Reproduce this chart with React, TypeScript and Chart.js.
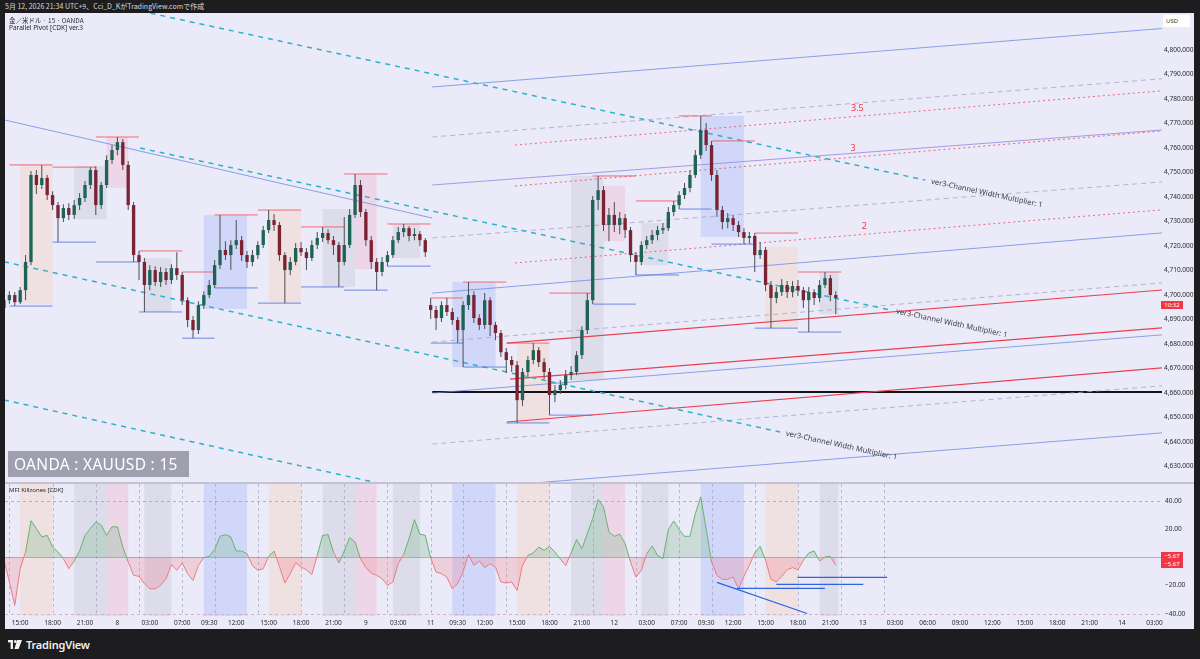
import React, { useEffect, useRef } from "react";
import { Chart, registerables } from "chart.js";
Chart.register(...registerables);

const FONT = "'Noto Sans', 'DejaVu Sans', sans-serif";
const CJK = "'Noto Sans CJK JP', 'Noto Sans', sans-serif";

// ---------- time model (30-minute bars, JST) ----------
const FIRST_BAR = "7 13:30";
const LAST_BAR = "12 21:30";
const AXIS_END = "14 06:00";
const WEEKEND = ["9 06:00", "11 07:00"];

// ---------- OHLC (XAUUSD, 30-min) ----------
const OPEN = [
  4694.7, 4697.9, 4700.0, 4697.1, 4702.0, 4713.5, 4749.0, 4744.9, 4747.8, 4740.8,
  4736.7, 4731.4, 4735.5, 4732.7, 4736.7, 4739.6, 4744.9, 4751.0, 4736.7, 4744.9,
  4755.1, 4759.2, 4762.4, 4753.1, 4736.7, 4716.3, 4713.5, 4704.1, 4710.2, 4705.3,
  4709.4, 4706.1, 4711.0, 4708.2, 4697.9, 4689.8, 4685.7, 4695.9, 4700.0, 4704.1,
  4712.2, 4718.4, 4716.3, 4720.4, 4722.4, 4716.3, 4713.5, 4716.3, 4720.4, 4726.5,
  4730.6, 4728.6, 4716.3, 4710.2, 4713.5, 4719.2, 4717.5, 4715.1, 4720.4, 4723.3,
  4725.3, 4722.4, 4720.4, 4713.5, 4720.4, 4732.7, 4744.9, 4733.9, 4722.4, 4713.5,
  4709.4, 4713.5, 4716.3, 4722.4, 4725.7, 4727.3, 4724.1, 4724.9, 4722.4, 4695.9,
  4693.9, 4690.6, 4695.9, 4693.1, 4689.8, 4685.7, 4695.9, 4700.0, 4690.6, 4687.8,
  4697.9, 4687.8, 4684.5, 4676.7, 4673.5, 4671.4, 4657.1, 4668.6, 4673.5, 4677.5,
  4672.6, 4668.6, 4659.2, 4661.2, 4663.3, 4667.3, 4668.6, 4675.5, 4685.7, 4697.9,
  4738.8, 4742.8, 4728.6, 4732.7, 4728.6, 4731.4, 4726.5, 4716.3, 4713.5, 4720.4,
  4722.4, 4724.5, 4726.5, 4727.3, 4733.9, 4736.7, 4740.8, 4743.7, 4749.0, 4757.1,
  4767.3, 4761.2, 4749.0, 4734.7, 4729.8, 4731.4, 4728.6, 4725.7, 4723.3, 4724.1,
  4716.3, 4718.4, 4704.1, 4698.8, 4701.2, 4704.1, 4701.2, 4703.7, 4702.0, 4697.9,
  4701.2, 4698.8, 4704.1, 4706.9, 4700.0,
];
const HIGH = [
  4699.5, 4701.6, 4701.2, 4703.3, 4716.3, 4750.6, 4751.0, 4753.1, 4749.0, 4742.4,
  4738.0, 4737.1, 4737.5, 4738.8, 4741.6, 4746.5, 4752.2, 4752.6, 4746.1, 4757.1,
  4761.2, 4764.5, 4763.7, 4754.7, 4738.0, 4718.0, 4715.1, 4712.2, 4711.8, 4711.4,
  4711.0, 4712.6, 4717.5, 4709.4, 4699.1, 4691.4, 4697.5, 4701.6, 4706.1, 4714.3,
  4732.7, 4722.0, 4722.4, 4730.6, 4724.1, 4718.0, 4718.4, 4722.0, 4728.2, 4734.7,
  4733.1, 4729.8, 4717.5, 4715.5, 4721.2, 4721.6, 4719.2, 4722.4, 4725.7, 4727.8,
  4726.9, 4724.1, 4721.6, 4731.8, 4735.1, 4749.4, 4746.9, 4735.1, 4724.1, 4715.1,
  4715.5, 4718.0, 4724.1, 4727.8, 4729.0, 4728.2, 4727.3, 4726.1, 4723.3, 4698.8,
  4695.5, 4697.5, 4698.8, 4694.7, 4691.0, 4697.5, 4705.3, 4701.6, 4692.2, 4700.8,
  4699.1, 4689.0, 4685.7, 4678.4, 4675.1, 4673.1, 4670.2, 4675.1, 4680.4, 4678.8,
  4674.3, 4670.2, 4663.3, 4665.3, 4669.4, 4671.0, 4677.1, 4687.3, 4700.8, 4740.4,
  4748.6, 4744.5, 4735.5, 4738.0, 4733.9, 4733.1, 4727.8, 4717.5, 4722.0, 4724.1,
  4726.5, 4728.2, 4729.4, 4735.9, 4738.4, 4742.4, 4745.7, 4751.0, 4759.2, 4773.1,
  4770.2, 4762.9, 4751.0, 4736.3, 4733.5, 4732.7, 4730.2, 4727.3, 4725.7, 4725.3,
  4721.6, 4719.6, 4705.7, 4703.3, 4706.5, 4705.7, 4705.7, 4706.1, 4703.3, 4703.3,
  4702.4, 4706.1, 4709.4, 4708.2, 4701.6,
];
const LOW = [
  4693.1, 4696.5, 4695.5, 4696.3, 4697.9, 4712.2, 4741.2, 4743.3, 4738.8, 4734.7,
  4721.6, 4729.8, 4730.6, 4731.0, 4734.7, 4738.0, 4743.3, 4732.7, 4735.1, 4743.7,
  4753.5, 4757.1, 4751.0, 4734.7, 4713.5, 4706.1, 4693.1, 4702.0, 4703.7, 4703.3,
  4704.1, 4704.5, 4706.1, 4695.9, 4686.9, 4682.4, 4684.1, 4694.3, 4698.8, 4702.9,
  4710.6, 4714.3, 4710.2, 4718.8, 4713.9, 4711.0, 4711.8, 4714.7, 4719.2, 4725.3,
  4726.1, 4713.9, 4696.7, 4708.2, 4712.2, 4715.9, 4710.2, 4713.9, 4718.8, 4721.6,
  4720.8, 4716.3, 4703.3, 4712.2, 4719.2, 4731.4, 4731.8, 4720.0, 4710.6, 4702.0,
  4707.7, 4711.8, 4715.1, 4721.2, 4723.7, 4722.0, 4722.4, 4720.0, 4715.5, 4690.2,
  4685.7, 4689.0, 4691.4, 4687.8, 4680.4, 4670.6, 4693.9, 4688.6, 4685.7, 4686.1,
  4683.3, 4681.6, 4674.7, 4668.2, 4668.6, 4647.8, 4654.7, 4666.5, 4671.8, 4670.6,
  4665.7, 4651.0, 4656.3, 4659.6, 4661.6, 4665.3, 4667.3, 4673.9, 4684.1, 4696.3,
  4734.7, 4726.1, 4722.0, 4725.7, 4724.9, 4723.3, 4713.5, 4708.2, 4712.2, 4718.8,
  4720.8, 4722.4, 4724.9, 4726.1, 4732.2, 4735.1, 4739.2, 4742.0, 4747.8, 4755.5,
  4758.8, 4746.5, 4731.8, 4726.9, 4727.3, 4726.1, 4723.7, 4720.8, 4721.2, 4709.4,
  4714.7, 4701.6, 4686.5, 4696.7, 4699.6, 4698.8, 4699.1, 4699.6, 4694.7, 4684.9,
  4695.9, 4697.1, 4702.9, 4697.5, 4692.2,
];
const CLOSE = [
  4697.9, 4700.0, 4697.1, 4702.0, 4713.5, 4749.0, 4744.9, 4747.8, 4740.8, 4736.7,
  4731.4, 4735.5, 4732.7, 4736.7, 4739.6, 4744.9, 4751.0, 4736.7, 4744.9, 4755.1,
  4759.2, 4762.4, 4753.1, 4736.7, 4716.3, 4713.5, 4704.1, 4710.2, 4705.3, 4709.4,
  4706.1, 4711.0, 4708.2, 4697.9, 4689.8, 4685.7, 4695.9, 4700.0, 4704.1, 4712.2,
  4718.4, 4716.3, 4720.4, 4722.4, 4716.3, 4713.5, 4716.3, 4720.4, 4726.5, 4730.6,
  4728.6, 4716.3, 4710.2, 4713.5, 4719.2, 4717.5, 4715.1, 4720.4, 4723.3, 4725.3,
  4722.4, 4720.4, 4713.5, 4720.4, 4732.7, 4744.9, 4733.9, 4722.4, 4713.5, 4709.4,
  4713.5, 4716.3, 4722.4, 4725.7, 4727.3, 4724.1, 4724.9, 4722.4, 4717.5, 4693.9,
  4690.6, 4695.9, 4693.1, 4689.8, 4685.7, 4695.9, 4700.0, 4690.6, 4687.8, 4697.9,
  4687.8, 4684.5, 4676.7, 4673.5, 4671.4, 4657.1, 4668.6, 4673.5, 4677.5, 4672.6,
  4668.6, 4659.2, 4661.2, 4663.3, 4667.3, 4668.6, 4675.5, 4685.7, 4697.9, 4738.8,
  4742.8, 4728.6, 4732.7, 4728.6, 4731.4, 4726.5, 4716.3, 4713.5, 4720.4, 4722.4,
  4724.5, 4726.5, 4727.3, 4733.9, 4736.7, 4740.8, 4743.7, 4749.0, 4757.1, 4767.3,
  4761.2, 4749.0, 4734.7, 4729.8, 4731.4, 4728.6, 4725.7, 4723.3, 4724.1, 4716.3,
  4718.4, 4704.1, 4698.8, 4701.2, 4704.1, 4701.2, 4703.7, 4702.0, 4697.9, 4701.2,
  4698.8, 4704.1, 4706.9, 4700.0, 4698.8,
];

// ---------- MFI Killzones oscillator ----------
const MFI = [
  -2.1, -17.5, -34.1, -8.1, 3.8, 26.0, 20.4, 14.5, 15.6, 7.3,
  3.8, -0.9, -8.1, -2.6, 4.5, 15.6, 20.4, 25.1, 22.7, 15.6,
  21.6, 21.6, 7.3, -3.3, -12.8, -13.5, -18.7, -22.3, -22.3, -19.9,
  -15.2, -5.0, -9.2, -4.0, -11.6, -16.4, -5.7, -0.2, 0.7, 5.5,
  14.9, 16.1, 14.5, 4.5, 4.5, 2.6, -5.9, -9.2, -8.1, 0.7,
  4.5, -6.4, -18.2, -11.6, -3.8, -6.9, -8.8, -12.3, 1.4, 15.6,
  16.1, 3.8, -4.0, 4.5, 14.0, 10.9, -0.9, -7.3, -11.1, -12.8,
  -15.2, -19.9, -17.5, -4.5, 2.1, 13.3, 26.8, 16.4, 15.6, -0.5,
  -10.4, -11.6, -14.0, -22.3, -18.7, -10.4, 2.1, -5.7, -2.6, -7.3,
  -4.5, -6.9, -17.5, -18.2, -17.5, -23.5, -5.7, 1.4, 3.1, 7.3,
  5.0, 7.8, 3.8, -1.2, -5.9, 3.1, 12.6, 6.2, 16.8, 27.5,
  41.0, 35.8, 18.0, 14.9, 16.4, 9.7, -3.3, -14.0, -9.2, 2.6,
  8.1, 1.4, -0.9, 19.7, 25.8, 19.7, 14.9, 14.9, 31.0, 42.9,
  20.4, -3.3, -12.8, -15.6, -15.6, -14.0, -22.3, -13.5, -5.7, 3.1,
  7.8, -2.1, -15.6, -17.5, -13.5, -8.8, -7.3, -8.8, -2.1, 3.1,
  4.5, -2.6, 0.2, 0.7, -5.67,
];

// ---------- axes ----------
const TIME_TICKS: [string, string][] = [
  ["7 15:00", "15:00"], ["7 18:00", "18:00"], ["7 21:00", "21:00"], ["8 00:00", "8"],
  ["8 03:00", "03:00"], ["8 07:00", "07:00"], ["8 09:30", "09:30"], ["8 12:00", "12:00"],
  ["8 15:00", "15:00"], ["8 18:00", "18:00"], ["8 21:00", "21:00"], ["9 00:00", "9"],
  ["9 03:00", "03:00"], ["11 07:00", "11"], ["11 09:30", "09:30"], ["11 12:00", "12:00"],
  ["11 15:00", "15:00"], ["11 18:00", "18:00"], ["11 21:00", "21:00"], ["12 00:00", "12"],
  ["12 03:00", "03:00"], ["12 07:00", "07:00"], ["12 09:30", "09:30"], ["12 12:00", "12:00"],
  ["12 15:00", "15:00"], ["12 18:00", "18:00"], ["12 21:00", "21:00"], ["13 00:00", "13"],
  ["13 03:00", "03:00"], ["13 06:00", "06:00"], ["13 09:00", "09:00"], ["13 12:00", "12:00"],
  ["13 15:00", "15:00"], ["13 18:00", "18:00"], ["13 21:00", "21:00"], ["14 00:00", "14"],
  ["14 03:00", "03:00"],
];
const PRICE_TICKS = [4630, 4640, 4650, 4660, 4670, 4680, 4690, 4700, 4710, 4720, 4730, 4740, 4750, 4760, 4770, 4780, 4790, 4800];
const PRICE_RANGE = [4623.3, 4815.1];
const MFI_TICKS = [40, 20, -20, -40];
const MFI_RANGE = [-41.6, 52.0];
const X_RANGE = [0.19, 214.4];

// ---------- killzones & 4h pivot blocks ----------
const KILLZONES: [string, string, string][] = [
  ["7 15:00", "7 18:00", "london"], ["7 20:00", "7 23:00", "nyam"], ["7 23:00", "8 01:00", "lunch"], ["8 02:30", "8 05:00", "nypm"],
  ["8 09:00", "8 13:00", "asia"], ["8 15:00", "8 18:00", "london"], ["8 20:00", "8 23:00", "nyam"], ["8 23:00", "9 01:00", "lunch"], ["9 02:30", "9 05:00", "nypm"],
  ["11 09:00", "11 13:00", "asia"], ["11 15:00", "11 18:00", "london"], ["11 20:00", "11 23:00", "nyam"], ["11 23:00", "12 01:00", "lunch"], ["12 02:30", "12 05:00", "nypm"],
  ["12 09:00", "12 13:00", "asia"], ["12 15:00", "12 18:00", "london"], ["12 20:00", "12 23:00", "nyam"],
];
const BLOCK_BREAKS = [
  "7 14:00", "7 18:00", "7 22:00", "8 02:00", "8 07:00", "8 10:00", "8 14:00", "8 18:00", "8 22:00", "9 02:00",
  "11 07:00", "11 10:00", "11 14:00", "11 18:00", "11 22:00", "12 02:00", "12 07:00", "12 10:00", "12 14:00",
  "12 18:00", "12 22:00", "13 02:00",
];

// ---------- Parallel Pivot channel lines: [barIdx0, price0, barIdx1, price1] ----------
const CH_BLUE = [[79.3, 4784.9, 214.6, 4808.8], [79.3, 4700.8, 214.6, 4725.4], [79.3, 4660.0, 214.6, 4683.8], [79.3, 4620.0, 214.6, 4643.8], [0.0, 4771.5, 79.3, 4731.4]];
const CH_GREY = [[79.3, 4764.5, 214.6, 4788.3], [79.3, 4723.3, 214.6, 4746.2], [79.3, 4680.8, 214.6, 4705.0], [79.3, 4639.2, 214.6, 4663.0]];
const CH_RED_DOT = [[94.6, 4761.2, 214.6, 4783.4], [94.6, 4744.5, 214.6, 4767.0], [94.6, 4713.1, 214.6, 4734.8]];
const CH_RED = [[93.1, 4680.4, 214.6, 4702.1], [93.7, 4665.7, 214.6, 4686.6], [93.1, 4648.2, 214.6, 4670.3]];
const CH_PURPLE = [[79.3, 4744.9, 214.6, 4767.4]];
const CH_CYAN = [[0.0, 4827.9, 170.6, 4746.9], [25.2, 4760.0, 164.1, 4693.9], [0.0, 4713.6, 143.7, 4644.1], [0.0, 4657.2, 80.0, 4618.0]];
const PIVOT_LEVEL = [79.3, 4660.4, 214.6, 4660.4];
const CH_LABEL = "ver3-Channel Width Multiplier: 1";
const LEVEL_LABELS: [string, number, number][] = [["3.5", 158.0, 4776.3], ["3", 157.2, 4760.0], ["2", 159.3, 4728.2]];

// MFI trendlines: [barIdx0, v0, barIdx1, v1]
const MFI_LINES = [[132.0, -17.8, 148.7, -39.8], [135.7, -22.0, 152.0, -22.0], [143.0, -19.2, 159.1, -19.2], [146.9, -14.2, 163.5, -14.2]];

// ---------- styles ----------
const BG = "#ebeaf8";
const UP = "#1e6456";
const DOWN = "#7c2333";
const WICK = "#505058";
const KZ_COLORS: Record<string, string> = {
  london: "rgba(255,185,140,0.2)",
  nyam: "rgba(140,140,155,0.15)",
  nypm: "rgba(140,140,155,0.15)",
  lunch: "rgba(255,130,165,0.18)",
  asia: "rgba(95,135,255,0.18)",
};

// ---------- helpers ----------
function parseT(s: string): number {
  const [d, hm] = s.split(" ");
  const [h, m] = hm.split(":").map(Number);
  return (Number(d) - 7) * 1440 + h * 60 + m;
}
const SLOTS: number[] = (() => {
  const out: number[] = [];
  const last = parseT(LAST_BAR);
  const end = parseT(AXIS_END);
  const w0 = parseT(WEEKEND[0]);
  const w1 = parseT(WEEKEND[1]);
  for (let t = parseT(FIRST_BAR); t <= end; t += 30) {
    const tod = t % 1440;
    let skip = false;
    if (t <= last) {
      if (tod >= 360 && tod < 420) skip = true;
      if (t >= w0 && t < w1) skip = true;
    }
    if (!skip) out.push(t);
  }
  return out;
})();
function toIdx(s: string): number {
  const t = parseT(s);
  let i = 0;
  while (i + 1 < SLOTS.length && SLOTS[i + 1] <= t) i++;
  return i + Math.min((t - SLOTS[i]) / 30, 1);
}
function segs(list: number[][]) {
  const pts: any[] = [];
  list.forEach(([a, p, b, q]) => {
    pts.push({ x: a, y: p }, { x: b, y: q }, { x: b, y: null });
  });
  return pts;
}
function rangeOf(a: number, b: number) {
  let h = -Infinity;
  let l = Infinity;
  for (let i = Math.max(0, Math.ceil(a - 1e-6)); i < b - 1e-6 && i < CLOSE.length; i++) {
    h = Math.max(h, HIGH[i]);
    l = Math.min(l, LOW[i]);
  }
  return { h, l };
}
function lineDs(data: any[], color: string, width: number, dash: number[] = [], order = 2) {
  return {
    type: "line",
    data,
    borderColor: color,
    borderWidth: width,
    borderDash: dash,
    pointRadius: 0,
    spanGaps: false,
    tension: 0,
    fill: false,
    order,
  };
}
const noPad = (s: any) => {
  s.paddingTop = 0;
  s.paddingBottom = 0;
  s.paddingLeft = 0;
  s.paddingRight = 0;
};

const priceOverlay = {
  id: "priceOverlay",
  beforeDatasetsDraw(chart: any) {
    const { ctx, chartArea: a, scales } = chart;
    const x = scales.x;
    const y = scales.y;
    ctx.save();
    ctx.beginPath();
    ctx.rect(a.left, a.top, a.right - a.left, a.bottom - a.top);
    ctx.clip();
    KILLZONES.forEach(([s, e, kind]) => {
      const i0 = toIdx(s);
      const i1 = toIdx(e);
      const { h, l } = rangeOf(i0, i1);
      if (!isFinite(h)) return;
      const xe = Math.min(i1, CLOSE.length - 0.5);
      const px0 = x.getPixelForValue(i0);
      const px1 = x.getPixelForValue(xe);
      const py0 = y.getPixelForValue(h);
      const py1 = y.getPixelForValue(l);
      ctx.fillStyle = KZ_COLORS[kind];
      ctx.fillRect(px0, py0, px1 - px0, py1 - py0);
    });
    ctx.restore();
  },
  afterDatasetsDraw(chart: any) {
    const { ctx, scales } = chart;
    const x = scales.x;
    const y = scales.y;
    ctx.save();
    ctx.font = `7.5px ${FONT}`;
    ctx.fillStyle = "#3a3a48";
    ctx.textBaseline = "middle";
    ctx.textAlign = "left";
    CH_CYAN.slice(0, 3).forEach(([a, p, b, q]) => {
      const x0 = x.getPixelForValue(a), y0 = y.getPixelForValue(p);
      const x1 = x.getPixelForValue(b), y1 = y.getPixelForValue(q);
      const ang = Math.atan2(y1 - y0, x1 - x0);
      ctx.save();
      ctx.translate(x1, y1);
      ctx.rotate(ang);
      ctx.fillText(CH_LABEL, 6, 0);
      ctx.restore();
    });
    ctx.font = `9px ${FONT}`;
    ctx.fillStyle = "#f23645";
    ctx.textAlign = "center";
    LEVEL_LABELS.forEach(([t, i, p]) => {
      ctx.fillText(t, x.getPixelForValue(i), y.getPixelForValue(p));
    });
    ctx.restore();
  },
};

const mfiOverlay = {
  id: "mfiOverlay",
  beforeDatasetsDraw(chart: any) {
    const { ctx, chartArea: a, scales } = chart;
    const x = scales.x;
    const y = scales.y;
    ctx.save();
    ctx.beginPath();
    ctx.rect(a.left, a.top, a.right - a.left, a.bottom - a.top);
    ctx.clip();
    KILLZONES.forEach(([s, e, kind]) => {
      const i0 = toIdx(s);
      const i1 = Math.min(toIdx(e), CLOSE.length - 0.5);
      const px0 = x.getPixelForValue(i0);
      const px1 = x.getPixelForValue(i1);
      ctx.fillStyle = KZ_COLORS[kind];
      ctx.fillRect(px0, a.top, px1 - px0, a.bottom - a.top);
    });
    ctx.strokeStyle = "rgba(140,140,165,0.5)";
    ctx.lineWidth = 1;
    ctx.setLineDash([3, 3]);
    BLOCK_BREAKS.forEach((s) => {
      const px = Math.round(x.getPixelForValue(toIdx(s))) + 0.5;
      ctx.beginPath();
      ctx.moveTo(px, a.top);
      ctx.lineTo(px, a.bottom);
      ctx.stroke();
    });
    [40, -40].forEach((v) => {
      const py = Math.round(y.getPixelForValue(v)) + 0.5;
      ctx.strokeStyle = v > 0 ? "rgba(140,140,165,0.6)" : "rgba(210,140,165,0.6)";
      ctx.beginPath();
      ctx.moveTo(a.left, py);
      ctx.lineTo(a.right, py);
      ctx.stroke();
    });
    ctx.setLineDash([]);
    const pz = Math.round(y.getPixelForValue(0)) + 0.5;
    ctx.strokeStyle = "rgba(150,150,170,0.7)";
    ctx.beginPath();
    ctx.moveTo(a.left, pz);
    ctx.lineTo(a.right, pz);
    ctx.stroke();
    ctx.restore();
  },
};

function blockLines() {
  const hi: any[] = [];
  const lo: any[] = [];
  for (let k = 0; k + 1 < BLOCK_BREAKS.length; k++) {
    const a = toIdx(BLOCK_BREAKS[k]);
    const b = toIdx(BLOCK_BREAKS[k + 1]);
    const { h, l } = rangeOf(a, b);
    if (!isFinite(h)) continue;
    hi.push({ x: a, y: h }, { x: b, y: h }, { x: b, y: null });
    lo.push({ x: a, y: l }, { x: b, y: l }, { x: b, y: null });
  }
  return { hi, lo };
}

export default function App() {
  const priceRef = useRef<HTMLCanvasElement>(null);
  const mfiRef = useRef<HTMLCanvasElement>(null);

  useEffect(() => {
    Chart.defaults.font.family = FONT;
    Chart.defaults.font.size = 7;
    Chart.defaults.color = "#2a2a2e";

    const wicks = CLOSE.map((_, i) => ({ x: i, y: [LOW[i], HIGH[i]] }));
    const bodies = CLOSE.map((c, i) => ({ x: i, y: [Math.min(OPEN[i], c), Math.max(OPEN[i], c)] }));
    const bodyColors = CLOSE.map((c, i) => (c >= OPEN[i] ? UP : DOWN));
    const { hi, lo } = blockLines();

    const c1 = new Chart(priceRef.current as HTMLCanvasElement, {
      type: "bar",
      data: {
        datasets: [
          lineDs(segs(CH_CYAN), "#2cb3c9", 1.5, [5, 5], 3),
          lineDs(segs(CH_BLUE), "rgba(100,135,225,0.75)", 1, [], 3),
          lineDs(segs(CH_GREY), "rgba(165,165,200,0.8)", 1, [5, 4], 3),
          lineDs(segs(CH_RED_DOT), "rgba(235,80,95,0.85)", 1, [2, 3], 3),
          lineDs(segs(CH_RED), "#ea3f50", 1.2, [], 3),
          lineDs(segs(CH_PURPLE), "rgba(150,140,225,0.85)", 1, [], 3),
          lineDs(segs([PIVOT_LEVEL]), "#141418", 2, [], 3),
          lineDs(hi, "rgba(240,85,95,0.85)", 1, [], 2),
          lineDs(lo, "rgba(85,120,225,0.85)", 1, [], 2),
          {
            type: "bar",
            data: wicks,
            backgroundColor: WICK,
            borderWidth: 0,
            grouped: false,
            categoryPercentage: 1,
            barPercentage: 0.19,
            order: 1,
          },
          {
            type: "bar",
            data: bodies,
            backgroundColor: bodyColors,
            borderWidth: 0,
            grouped: false,
            categoryPercentage: 1,
            barPercentage: 0.62,
            minBarLength: 1,
            order: 0,
          },
        ] as any,
      },
      options: {
        animation: false,
        responsive: true,
        maintainAspectRatio: false,
        events: [],
        layout: { padding: 0 },
        plugins: { legend: { display: false }, tooltip: { enabled: false } },
        scales: {
          x: { type: "linear", min: X_RANGE[0], max: X_RANGE[1], display: false, offset: false },
          y: {
            type: "linear",
            position: "right",
            min: PRICE_RANGE[0],
            max: PRICE_RANGE[1],
            beginAtZero: false,
            afterFit: (s: any) => { s.width = 32; noPad(s); },
            afterBuildTicks: (s: any) => { s.ticks = PRICE_TICKS.map((v) => ({ value: v })); },
            ticks: {
              padding: 2,
              font: { size: 6.5 },
              color: "#2a2a2e",
              callback: (v: any) => Number(v).toLocaleString("en-US", { minimumFractionDigits: 3, maximumFractionDigits: 3 }),
            },
            grid: { display: false, drawTicks: false },
            border: { display: false },
          },
        },
      } as any,
      plugins: [priceOverlay],
    });

    const tickPos = TIME_TICKS.map(([t, lab]) => ({ value: toIdx(t), label: lab }));
    const c2 = new Chart(mfiRef.current as HTMLCanvasElement, {
      type: "line",
      data: {
        datasets: [
          {
            data: MFI.map((v, i) => ({ x: i, y: v })),
            borderWidth: 1,
            pointRadius: 0,
            tension: 0,
            borderColor: "#66b36e",
            segment: {
              borderColor: (ctx: any) => ((ctx.p0.parsed.y + ctx.p1.parsed.y) / 2 >= 0 ? "#66b36e" : "#f07a80"),
            },
            fill: { target: { value: 0 }, above: "rgba(90,175,105,0.22)", below: "rgba(245,95,105,0.2)" },
            order: 2,
          },
          lineDs(segs(MFI_LINES), "#2f63e6", 1.2, [], 1),
        ] as any,
      },
      options: {
        animation: false,
        responsive: true,
        maintainAspectRatio: false,
        events: [],
        layout: { padding: { top: 1 } },
        plugins: { legend: { display: false }, tooltip: { enabled: false } },
        scales: {
          x: {
            type: "linear",
            min: X_RANGE[0],
            max: X_RANGE[1],
            offset: false,
            afterFit: (s: any) => { s.height = 13; noPad(s); },
            afterBuildTicks: (s: any) => { s.ticks = tickPos.map((t) => ({ value: t.value })); },
            ticks: {
              autoSkip: false,
              maxRotation: 0,
              padding: 3,
              font: { size: 6.5 },
              color: "#2a2a2e",
              callback: (_v: any, i: number) => tickPos[i].label,
            },
            grid: { display: false, drawTicks: false },
            border: { display: false },
          },
          y: {
            type: "linear",
            position: "right",
            min: MFI_RANGE[0],
            max: MFI_RANGE[1],
            afterFit: (s: any) => { s.width = 32; noPad(s); },
            afterBuildTicks: (s: any) => { s.ticks = MFI_TICKS.map((v) => ({ value: v })); },
            ticks: {
              padding: 3,
              font: { size: 6.5 },
              color: "#2a2a2e",
              callback: (v: any) => (v < 0 ? "\u2212" : "") + Math.abs(Number(v)).toFixed(2),
            },
            grid: { display: false, drawTicks: false },
            border: { display: false },
          },
        },
      } as any,
      plugins: [mfiOverlay],
    });

    return () => {
      c1.destroy();
      c2.destroy();
    };
  }, []);

  const abs = (l: number, t: number, w: number, h: number, extra: any = {}) => ({
    position: "absolute" as const, left: l, top: t, width: w, height: h, ...extra,
  });

  return (
    <div style={{ position: "fixed", left: 0, top: 0, width: 1200, height: 659, background: "#1d1d1f", overflow: "hidden", fontFamily: FONT }}>
      <div style={abs(5, 1, 600, 11, { color: "#d9d9de", fontSize: 7, lineHeight: "11px", fontFamily: CJK, whiteSpace: "nowrap" })}>
        5月 12, 2026 21:34 UTC+9、Cci_D_KがTradingView.comで作成
      </div>
      <div style={abs(5, 13, 1189, 616, { background: BG })} />
      <div style={abs(5, 13, 1189, 470)}>
        <canvas ref={priceRef} />
      </div>
      <div style={abs(5, 483, 1189, 146)}>
        <canvas ref={mfiRef} />
      </div>
      <div style={abs(5, 482, 1189, 2, { background: "#c3c3d3" })} />
      <div style={abs(9, 16, 300, 8, { fontSize: 6.5, lineHeight: "8px", color: "#262630", fontFamily: CJK, whiteSpace: "nowrap" })}>
        金／米ドル · 15 · OANDA
      </div>
      <div style={abs(9, 24, 300, 8, { fontSize: 6.5, lineHeight: "8px", color: "#262630", whiteSpace: "nowrap" })}>
        Parallel Pivot [CDK] ver.3
      </div>
      <div style={abs(9, 486, 200, 8, { fontSize: 6, lineHeight: "8px", color: "#262630", whiteSpace: "nowrap" })}>
        MFI Killzones [CDK]
      </div>
      <div style={abs(1163, 15, 27, 12, { background: "#ffffff", fontSize: 6, lineHeight: "12px", color: "#333", paddingLeft: 3, boxSizing: "border-box" })}>
        USD
      </div>
      <div style={abs(8, 451, 181, 26, { background: "rgba(130,130,148,0.72)", color: "#ffffff", fontSize: 15.5, lineHeight: "26px", paddingLeft: 6, boxSizing: "border-box", whiteSpace: "nowrap", letterSpacing: 0.3 })}>
        OANDA : XAUUSD : 15
      </div>
      <div style={abs(1161, 301, 22, 8, { background: "#f23645", color: "#fff", fontSize: 6, lineHeight: "8px", textAlign: "center" })}>
        10:32
      </div>
      <div style={abs(1161, 552, 22, 8, { background: "#f23645", color: "#fff", fontSize: 6, lineHeight: "8px", textAlign: "center" })}>
        −5.67
      </div>
      <div style={abs(1161, 560, 22, 8, { background: "#f23645", color: "#fff", fontSize: 6, lineHeight: "8px", textAlign: "center" })}>
        −5.67
      </div>
      <div style={abs(8, 637, 200, 14, { display: "flex", alignItems: "center", gap: 4, color: "#f0f0f0" })}>
        <svg width="14" height="9" viewBox="0 0 14 9">
          <rect x="0" y="0" width="5" height="2.4" fill="#f0f0f0" />
          <rect x="2.6" y="0" width="2.4" height="9" fill="#f0f0f0" />
          <circle cx="7.3" cy="1.6" r="1.5" fill="#f0f0f0" />
          <polygon points="9.2,0 14,0 10.6,9 6.4,9" fill="#f0f0f0" />
        </svg>
        <span style={{ fontSize: 11, fontWeight: 600, letterSpacing: -0.2 }}>TradingView</span>
      </div>
    </div>
  );
}
